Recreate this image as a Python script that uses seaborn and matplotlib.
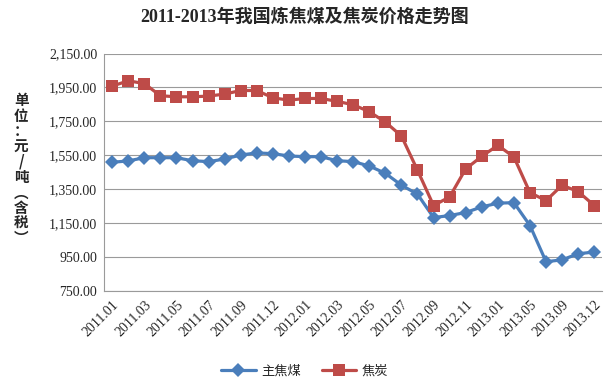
import numpy as np
import pandas as pd
import matplotlib
matplotlib.use('Agg')
import matplotlib.pyplot as plt
from matplotlib.ticker import FuncFormatter
import seaborn as sns

# ── Data ──────────────────────────────────────────────────
tick_labels = ['2011.01', '2011.03', '2011.05', '2011.07', '2011.09', '2011.12',
               '2012.01', '2012.03', '2012.05', '2012.07', '2012.09', '2012.11',
               '2013.01', '2013.05', '2013.09', '2013.12']
coking_coal = [1509, 1517, 1536, 1536, 1536, 1518, 1513, 1528, 1552, 1564,
               1560, 1546, 1542, 1542, 1518, 1513, 1487, 1444, 1374, 1321,
               1183, 1195, 1213, 1246, 1268, 1271, 1136, 923, 934, 970, 980]
coke = [1958, 1989, 1973, 1901, 1895, 1895, 1899, 1911, 1932, 1932,
        1889, 1875, 1885, 1885, 1868, 1848, 1807, 1746, 1664, 1462,
        1254, 1305, 1470, 1544, 1609, 1540, 1330, 1283, 1374, 1336, 1254]
series_names = ['主焦煤', '焦炭']
y_ticks = [750, 950, 1150, 1350, 1550, 1750, 1950, 2150]

idx = np.arange(len(coke))
df = pd.DataFrame({
    'idx': np.concatenate([idx, idx]),
    'price': coking_coal + coke,
    'series': [series_names[0]] * len(idx) + [series_names[1]] * len(idx),
})

# ── Plot ──────────────────────────────────────────────────
sns.set_style('white')
plt.rcParams['font.family'] = ['Liberation Serif', 'Noto Sans CJK SC']

fig = plt.figure(figsize=(6.09, 3.85), dpi=100)
ax = fig.add_axes([0.171, 0.244, 0.818, 0.617])

palette = {'主焦煤': '#4a7ebb', '焦炭': '#be4b48'}
sns.lineplot(data=df, x='idx', y='price', hue='series', style='series',
             markers={'主焦煤': 'D', '焦炭': 's'}, dashes=False,
             palette=palette, lw=2.3, markeredgewidth=0, ax=ax, legend=False)
for line in ax.lines:
    if line.get_marker() == 's':
        line.set_markersize(8.5)
    else:
        line.set_markersize(7)

ax.set_xlim(-0.5, len(idx) - 0.5)
ax.set_ylim(750, 2150)
ax.set_yticks(y_ticks)
ax.yaxis.set_major_formatter(FuncFormatter(lambda v, p: f'{v:,.2f}'))
ax.set_xticks(idx[::2])
ax.set_xticklabels(tick_labels, rotation=45, ha='right', rotation_mode='anchor')
ax.tick_params(length=0, labelsize=10, pad=5)
ax.set_xlabel('')
ax.set_ylabel('')
ax.grid(axis='y', color='#9a9a9a', lw=0.8)
for s in ['top', 'right']:
    ax.spines[s].set_visible(False)
for s in ['left', 'bottom']:
    ax.spines[s].set_color('#9a9a9a')
    ax.spines[s].set_linewidth(0.8)

fig.text(0.5, 0.955, '2011-2013年我国炼焦煤及焦炭价格走势图', ha='center', va='center',
         fontsize=13, fontweight='bold',
         family=['Liberation Serif', 'Noto Sans CJK SC'])
fig.text(0.035, 0.56, '\n'.join('单位：元/吨︵含税︶'), ha='center', va='center',
         fontsize=10.5, fontweight='bold', linespacing=0.95,
         family=['Noto Sans CJK SC', 'DejaVu Sans'])

handles = [plt.Line2D([], [], color=palette['主焦煤'], marker='D', lw=2.3, ms=7, mew=0),
           plt.Line2D([], [], color=palette['焦炭'], marker='s', lw=2.3, ms=8.5, mew=0)]
fig.legend(handles, series_names, loc='center', bbox_to_anchor=(0.5, 0.035), ncol=2,
           frameon=False, prop={'family': 'Noto Sans CJK SC', 'size': 9.5},
           handlelength=2.6, columnspacing=1.6, handletextpad=0.4)

plt.savefig('out.png', dpi=100)
plt.close()
